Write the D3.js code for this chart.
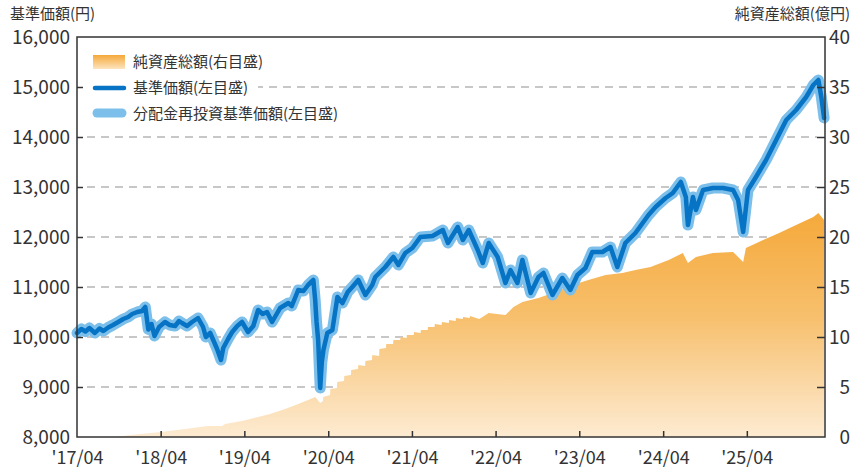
<!DOCTYPE html>
<html>
<head>
<meta charset="utf-8">
<script src="https://cdn.jsdelivr.net/npm/d3@7"></script>
<style>
    body { margin: 0; background: #fff; }
    #chart-area { width: 851px; height: 468px; }
    text { font-family: "Noto Sans CJK JP", "Noto Sans", sans-serif; fill: #333; }
</style>
</head>
<body>
<div id="chart-area"></div>
<script>
// nav (left axis, yen)
const navSeries = [
    ["2017-04-01",10080],["2017-04-20",10160],["2017-05-08",10110],["2017-05-25",10180],["2017-06-18",10080],
    ["2017-07-08",10170],["2017-07-25",10120],["2017-08-15",10190],["2017-09-05",10240],["2017-09-28",10300],
    ["2017-10-20",10360],["2017-11-10",10400],["2017-11-28",10460],["2017-12-20",10500],["2018-01-10",10520],
    ["2018-01-24",10600],["2018-02-06",10150],["2018-02-20",10260],["2018-03-05",10020],["2018-03-25",10200],
    ["2018-04-20",10300],["2018-05-10",10240],["2018-06-03",10220],["2018-06-20",10320],["2018-07-03",10280],
    ["2018-07-25",10220],["2018-08-16",10300],["2018-09-11",10380],["2018-10-03",10200],["2018-10-15",10000],
    ["2018-11-03",10080],["2018-11-20",9900],["2018-12-03",9760],["2018-12-20",9540],["2018-12-30",9780],
    ["2019-01-20",9960],["2019-02-07",10100],["2019-03-01",10220],["2019-03-22",10300],["2019-04-17",10100],
    ["2019-05-10",10220],["2019-05-31",10540],["2019-06-20",10460],["2019-07-09",10500],["2019-07-31",10300],
    ["2019-08-15",10420],["2019-09-04",10580],["2019-10-10",10680],["2019-10-25",10620],["2019-11-22",10940],
    ["2019-12-15",10920],["2020-01-04",11040],["2020-01-27",11140],["2020-02-04",10740],["2020-02-10",10300],
    ["2020-02-17",9940],["2020-02-22",9400],["2020-02-26",8980],["2020-03-04",9500],["2020-03-11",9740],
    ["2020-03-28",10080],["2020-04-19",10140],["2020-05-11",10800],["2020-06-02",10680],["2020-06-25",10900],
    ["2020-07-15",11000],["2020-08-10",11140],["2020-09-10",10840],["2020-10-10",11040],["2020-10-23",11200],
    ["2020-12-06",11400],["2021-01-10",11600],["2021-02-01",11440],["2021-03-03",11680],["2021-04-03",11780],
    ["2021-05-08",12000],["2021-06-30",12020],["2021-08-14",12140],["2021-09-05",11880],["2021-10-18",12200],
    ["2021-11-09",11940],["2021-12-05",12140],["2022-01-13",11740],["2022-02-04",11480],["2022-03-02",11880],
    ["2022-04-10",11600],["2022-05-14",11080],["2022-06-05",11340],["2022-07-05",11080],["2022-07-27",11540],
    ["2022-09-01",10880],["2022-10-05",11200],["2022-10-27",11280],["2022-12-05",10840],["2023-01-17",11180],
    ["2023-02-21",10940],["2023-03-24",11240],["2023-04-28",11380],["2023-05-28",11700],["2023-07-11",11700],
    ["2023-08-15",11800],["2023-09-14",11400],["2023-10-19",11880],["2023-12-02",12080],["2024-01-28",12440],
    ["2024-02-28",12600],["2024-04-12",12780],["2024-05-13",12880],["2024-06-17",13100],["2024-07-09",12800],
    ["2024-07-18",12240],["2024-08-09",12800],["2024-08-22",12540],["2024-09-22",12940],["2024-11-04",12980],
    ["2024-12-18",12980],["2025-01-31",12940],["2025-02-22",12740],["2025-03-16",12100],["2025-04-06",12940],
    ["2025-05-11",13200],["2025-06-24",13540],["2025-08-07",13940],["2025-09-20",14340],["2025-11-02",14540],
    ["2025-12-16",14800],["2026-01-16",15040],["2026-02-07",15140],["2026-02-20",14800],["2026-03-04",14380]
];

// no distributions were paid, so the reinvested nav is the same as the nav
const reinvestSeries = navSeries.map(d => [d[0], d[1]]);

// net assets (right axis, 100 million yen)
const assetSeries = [
    ["2017-04-01",0],["2017-09-20",0],["2017-11-01",0.15],["2018-01-01",0.3],["2018-04-03",0.5],
    ["2018-07-16",0.8],["2018-10-25",1.1],["2018-12-25",1.1],["2019-01-07",1.3],["2019-03-22",1.6],
    ["2019-05-31",2.0],["2019-07-22",2.3],["2019-09-26",2.8],["2019-11-22",3.3],["2020-01-04",3.7],
    ["2020-02-04",4.0],["2020-02-26",3.4],["2020-03-09",3.6],["2020-03-10",4.0],["2020-04-09",4.2],
    ["2020-04-10",4.8],["2020-05-09",4.9],["2020-05-10",5.5],["2020-06-09",5.6],["2020-06-10",6.1],
    ["2020-07-09",6.2],["2020-07-10",6.7],["2020-08-09",6.8],["2020-08-10",7.2],["2020-09-09",7.1],
    ["2020-09-10",7.6],["2020-10-09",7.7],["2020-10-10",8.2],["2020-11-09",8.1],["2020-11-10",8.8],
    ["2020-12-09",8.9],["2020-12-10",9.3],["2021-01-09",9.3],["2021-01-10",9.7],["2021-02-09",9.7],
    ["2021-02-10",10.0],["2021-03-09",9.9],["2021-03-10",10.2],["2021-04-09",10.2],["2021-04-10",10.5],
    ["2021-05-09",10.4],["2021-05-10",10.7],["2021-06-09",10.7],["2021-06-10",11.0],["2021-07-09",11.0],
    ["2021-07-10",11.3],["2021-08-09",11.2],["2021-08-10",11.5],["2021-09-09",11.4],["2021-09-10",11.7],
    ["2021-10-09",11.6],["2021-10-10",11.9],["2021-11-09",11.8],["2021-11-10",12.0],["2021-12-09",11.9],
    ["2021-12-10",12.1],["2022-01-20",11.8],["2022-03-02",12.4],["2022-05-14",12.2],["2022-06-18",13.0],
    ["2022-07-27",13.5],["2022-10-05",13.9],["2022-12-18",14.5],["2023-03-02",15.2],["2023-05-11",15.7],
    ["2023-07-25",16.2],["2023-10-06",16.4],["2023-12-02",16.7],["2024-02-06",17.0],["2024-04-25",17.7],
    ["2024-06-26",18.4],["2024-07-18",17.4],["2024-08-22",18.0],["2024-11-04",18.4],["2025-01-31",18.5],
    ["2025-03-16",17.5],["2025-03-28",18.9],["2025-06-11",19.7],["2025-08-20",20.4],["2025-11-02",21.2],
    ["2026-01-16",22.0],["2026-02-07",22.4],["2026-03-04",21.7]
];

const leftTicks = [8000, 9000, 10000, 11000, 12000, 13000, 14000, 15000, 16000];
const rightTicks = [0, 5, 10, 15, 20, 25, 30, 35, 40];
const xTickDates = ["2017-04-01","2018-04-01","2019-04-01","2020-04-01","2021-04-01",
                    "2022-04-01","2023-04-01","2024-04-01","2025-04-01"];
const xDomain = ["2017-04-01", "2026-03-08"];
const leftTitle = "基準価額(円)";
const rightTitle = "純資産総額(億円)";
const legendLabels = ["純資産総額(右目盛)", "基準価額(左目盛)", "分配金再投資基準価額(左目盛)"];

class FundChart {

    constructor(parentElement) {
        this.parentElement = parentElement;
        this.initVis();
    }

    initVis() {
        let vis = this;

        vis.margin = {top: 37, right: 26, bottom: 31, left: 77};
        vis.width = 851 - vis.margin.left - vis.margin.right;
        vis.height = 468 - vis.margin.top - vis.margin.bottom;

        vis.root = d3.select("#" + vis.parentElement).append("svg")
            .attr("width", 851)
            .attr("height", 468);

        vis.svg = vis.root.append("g")
            .attr("transform", `translate(${vis.margin.left}, ${vis.margin.top})`);

        let parse = d3.timeParse("%Y-%m-%d");
        vis.parse = parse;

        vis.x = d3.scaleTime().domain(xDomain.map(parse)).range([0, vis.width]);
        vis.yLeft = d3.scaleLinear().domain([8000, 16000]).range([vis.height, 0]);
        vis.yRight = d3.scaleLinear().domain([0, 40]).range([vis.height, 0]);

        // gradient for the area and the legend swatch
        let defs = vis.root.append("defs");
        let grad = defs.append("linearGradient")
            .attr("id", "assetFill")
            .attr("gradientUnits", "userSpaceOnUse")
            .attr("x1", 0).attr("x2", 0)
            .attr("y1", vis.yRight(22)).attr("y2", vis.height);
        grad.append("stop").attr("offset", "0%").attr("stop-color", "#f5aa3d");
        grad.append("stop").attr("offset", "45%").attr("stop-color", "#f7bf6c");
        grad.append("stop").attr("offset", "100%").attr("stop-color", "#fdebd2");

        let legGrad = defs.append("linearGradient")
            .attr("id", "legendFill")
            .attr("x1", 0).attr("x2", 0).attr("y1", 0).attr("y2", 1);
        legGrad.append("stop").attr("offset", "0%").attr("stop-color", "#f5a83a");
        legGrad.append("stop").attr("offset", "100%").attr("stop-color", "#fde4bf");

        vis.updateVis();
    }

    updateVis() {
        let vis = this;
        let parse = vis.parse;

        // dashed gridlines
        vis.svg.selectAll(".grid")
            .data(leftTicks.slice(1, -1))
            .enter()
            .append("line")
            .attr("class", "grid")
            .attr("x1", 10).attr("x2", vis.width - 8)
            .attr("y1", d => vis.yLeft(d)).attr("y2", d => vis.yLeft(d))
            .style("stroke", "#8f8f8f")
            .style("stroke-width", 1.2)
            .style("stroke-dasharray", "8,6");

        // net assets area
        let area = d3.area()
            .x(d => vis.x(parse(d[0])))
            .y0(vis.height)
            .y1(d => vis.yRight(d[1]));

        vis.svg.append("path")
            .datum(assetSeries)
            .attr("d", area)
            .style("fill", "url(#assetFill)");

        // nav lines
        let lineLeft = d3.line()
            .x(d => vis.x(parse(d[0])))
            .y(d => vis.yLeft(d[1]));

        vis.svg.append("path")
            .datum(reinvestSeries)
            .attr("d", lineLeft)
            .style("fill", "none")
            .style("stroke", "#7cbfea")
            .style("stroke-width", 11)
            .style("stroke-linejoin", "round")
            .style("stroke-linecap", "round");

        vis.svg.append("path")
            .datum(navSeries)
            .attr("d", lineLeft)
            .style("fill", "none")
            .style("stroke", "#0673c4")
            .style("stroke-width", 4.5)
            .style("stroke-linejoin", "round")
            .style("stroke-linecap", "round");

        // axes
        let leftAxis = d3.axisLeft(vis.yLeft)
            .tickValues(leftTicks)
            .tickSize(-6)
            .tickPadding(7)
            .tickFormat(d3.format(","));

        let rightAxis = d3.axisRight(vis.yRight)
            .tickValues(rightTicks)
            .tickSize(-8)
            .tickPadding(4);

        let bottomAxis = d3.axisBottom(vis.x)
            .tickValues(xTickDates.map(parse))
            .tickSize(-6)
            .tickPadding(14)
            .tickFormat(d3.timeFormat("'%y/%m"));

        let gl = vis.svg.append("g").call(leftAxis);
        let gr = vis.svg.append("g").attr("transform", `translate(${vis.width}, 0)`).call(rightAxis);
        let gb = vis.svg.append("g").attr("transform", `translate(0, ${vis.height})`).call(bottomAxis);

        [gl, gr, gb].forEach(g => {
            g.select(".domain").remove();
            g.selectAll(".tick line").style("stroke", "#333").style("stroke-width", 1.5);
            g.selectAll("text").style("font-size", "19px").style("fill", "#333");
        });
        gb.selectAll("text").style("font-size", "18px");
        gl.selectAll(".tick").filter(d => d === 16000 || d === 8000).select("line").remove();
        gr.selectAll(".tick").filter(d => d === 40 || d === 0).select("line").remove();
        gb.selectAll(".tick").filter((d, i) => i === 0).select("line").remove();
        gr.selectAll("text").attr("x", 851 - vis.margin.left - vis.width - 1).attr("text-anchor", "end");

        // frame
        vis.svg.append("rect")
            .attr("width", vis.width)
            .attr("height", vis.height)
            .style("fill", "none")
            .style("stroke", "#333")
            .style("stroke-width", 1.5);

        // axis titles
        vis.root.append("text")
            .attr("x", 10).attr("y", 19)
            .style("font-size", "15px")
            .text(leftTitle);
        vis.root.append("text")
            .attr("x", 850).attr("y", 19)
            .attr("text-anchor", "end")
            .style("font-size", "15px")
            .text(rightTitle);

        // legend
        let legend = vis.svg.append("g").attr("transform", "translate(9, 12)");
        legend.append("rect")
            .attr("x", 0).attr("y", 0)
            .attr("width", 172).attr("height", 76)
            .style("fill", "#fff");

        legend.append("rect")
            .attr("x", 7).attr("y", 6)
            .attr("width", 32).attr("height", 14)
            .style("fill", "url(#legendFill)");
        legend.append("line")
            .attr("x1", 9).attr("x2", 38)
            .attr("y1", 39).attr("y2", 39)
            .style("stroke", "#0673c4")
            .style("stroke-width", 4.5)
            .style("stroke-linecap", "round");
        legend.append("line")
            .attr("x1", 11).attr("x2", 36)
            .attr("y1", 64).attr("y2", 64)
            .style("stroke", "#7cbfea")
            .style("stroke-width", 9)
            .style("stroke-linecap", "round");

        legend.selectAll(".legend-label")
            .data(legendLabels)
            .enter()
            .append("text")
            .attr("class", "legend-label")
            .attr("x", 47)
            .attr("y", (d, i) => 13 + i * 26)
            .attr("dy", "0.35em")
            .style("font-size", "15px")
            .text(d => d);
    }
}

new FundChart("chart-area");
</script>
</body>
</html>
